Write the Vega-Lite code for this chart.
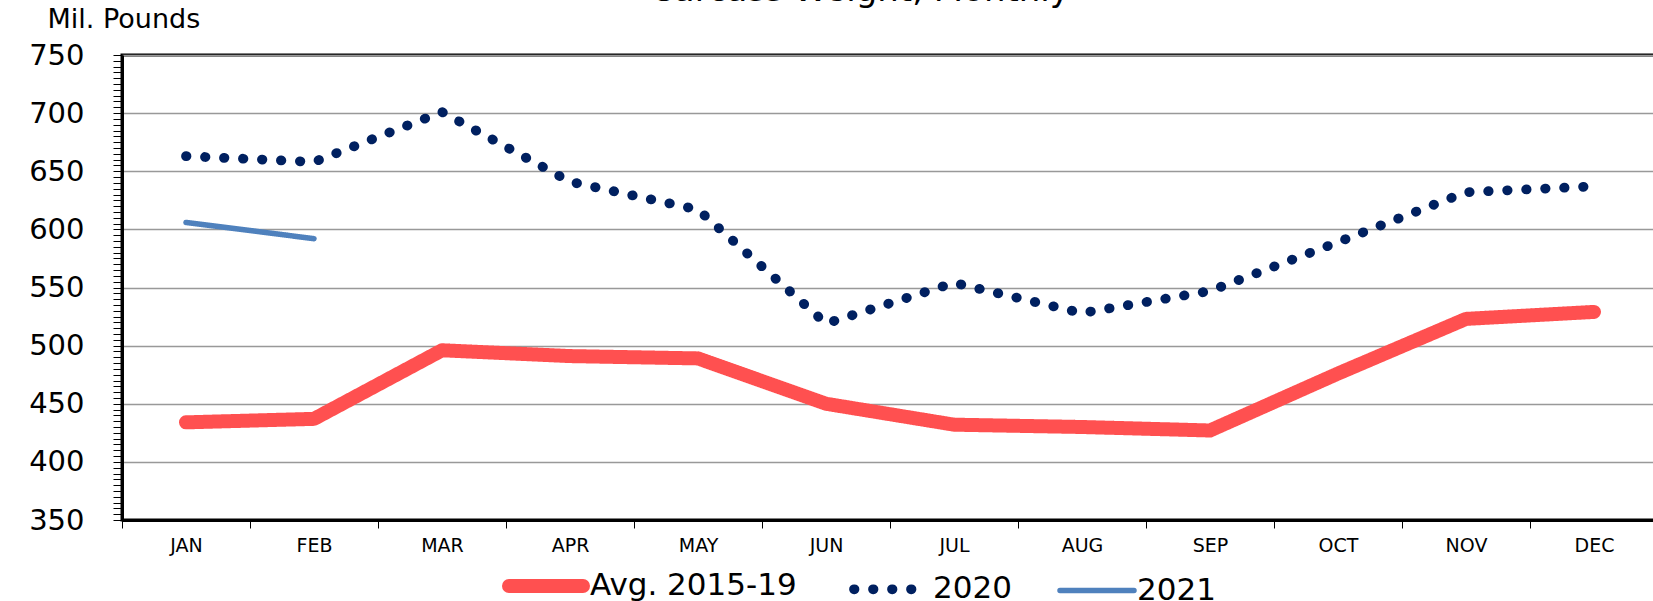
{
  "$schema": "https://vega.github.io/schema/vega-lite/v6.json",
  "autosize": "none",
  "width": 1536,
  "height": 465,
  "padding": {"left": 122, "top": 55, "right": 0, "bottom": 81},
  "background": "white",
  "title": {"text": "Carcass Weight, Monthly", "fontSize": 34, "font": "DejaVu Sans", "fontWeight": "normal", "color": "black", "anchor": "middle", "dx": -30, "dy": 30, "offset": 0, "baseline": "alphabetic"},
  "config": {
    "view": {"stroke": "black", "strokeWidth": 3},
    "font": "DejaVu Sans"
  },
  "data": {"values": [
    {"month": "JAN", "series": "Avg. 2015-19", "value": 434},
    {"month": "FEB", "series": "Avg. 2015-19", "value": 437},
    {"month": "MAR", "series": "Avg. 2015-19", "value": 496},
    {"month": "APR", "series": "Avg. 2015-19", "value": 491},
    {"month": "MAY", "series": "Avg. 2015-19", "value": 489},
    {"month": "JUN", "series": "Avg. 2015-19", "value": 450},
    {"month": "JUL", "series": "Avg. 2015-19", "value": 432},
    {"month": "AUG", "series": "Avg. 2015-19", "value": 430},
    {"month": "SEP", "series": "Avg. 2015-19", "value": 427},
    {"month": "OCT", "series": "Avg. 2015-19", "value": 476},
    {"month": "NOV", "series": "Avg. 2015-19", "value": 523},
    {"month": "DEC", "series": "Avg. 2015-19", "value": 529},
    {"month": "JAN", "series": "2020", "value": 663},
    {"month": "FEB", "series": "2020", "value": 658},
    {"month": "MAR", "series": "2020", "value": 701},
    {"month": "APR", "series": "2020", "value": 641},
    {"month": "MAY", "series": "2020", "value": 617},
    {"month": "JUN", "series": "2020", "value": 519},
    {"month": "JUL", "series": "2020", "value": 554},
    {"month": "AUG", "series": "2020", "value": 528},
    {"month": "SEP", "series": "2020", "value": 547},
    {"month": "OCT", "series": "2020", "value": 589},
    {"month": "NOV", "series": "2020", "value": 632},
    {"month": "DEC", "series": "2020", "value": 637},
    {"month": "JAN", "series": "2021", "value": 606},
    {"month": "FEB", "series": "2021", "value": 592}
  ]},
  "mark": {"type": "line", "strokeCap": "round", "strokeJoin": "round"},
  "encoding": {
    "x": {
      "field": "month", "type": "ordinal", "bandPosition": 0.5,
      "sort": ["JAN","FEB","MAR","APR","MAY","JUN","JUL","AUG","SEP","OCT","NOV","DEC"],
      "scale": {"type": "band", "paddingInner": 0, "paddingOuter": 0},
      "axis": {"title": null, "labelFontSize": 19, "labelColor": "black", "labelAngle": 0, "tickBand": "extent", "tickSize": 8, "tickColor": "black", "domainColor": "black", "domainWidth": 3, "labelPadding": 8, "grid": false}
    },
    "y": {
      "field": "value", "type": "quantitative",
      "scale": {"domain": [350, 750], "nice": false, "zero": false},
      "axis": {
        "tickCount": 80, "labelExpr": "datum.value % 50 === 0 ? datum.label : ''", "labelOverlap": false,
        "labelFontSize": 29, "labelColor": "black", "labelPadding": 29,
        "tickSize": 9, "tickColor": "black", "domainColor": "black", "domainWidth": 3,
        "grid": true, "gridColor": "#999999", "gridWidth": 1.5,
        "gridOpacity": {"condition": {"test": "datum.value % 50 === 0", "value": 1}, "value": 0},
        "title": "Mil. Pounds", "titleAngle": 0, "titleAlign": "left", "titleBaseline": "alphabetic",
        "titleX": -75, "titleY": -28, "titleFontSize": 27, "titleFontWeight": "normal", "titleColor": "black"
      }
    },
    "color": {
      "field": "series", "type": "nominal",
      "scale": {"domain": ["Avg. 2015-19", "2020", "2021"], "range": ["#FF5050", "#002060", "#4F81BD"]},
      "legend": {"title": null, "orient": "none", "legendX": 380, "legendY": 487, "direction": "horizontal", "labelFontSize": 31, "labelColor": "black", "labelLimit": 400, "symbolType": "stroke", "symbolSize": 5476, "labelOffset": 0, "columnPadding": 37,
        "encode": {"symbols": {"update": {"strokeCap": {"value": "round"}}}}}
    },
    "strokeDash": {
      "field": "series", "type": "nominal",
      "scale": {"domain": ["Avg. 2015-19", "2020", "2021"], "range": [[1, 0], [0.5, 18.5], [1, 0]]},
      "legend": {"title": null, "orient": "none", "legendX": 380, "legendY": 487, "direction": "horizontal", "labelFontSize": 31, "labelColor": "black", "labelLimit": 400, "symbolType": "stroke", "symbolSize": 5476, "labelOffset": 0, "columnPadding": 37,
        "encode": {"symbols": {"update": {"strokeCap": {"value": "round"}}}}}
    },
    "strokeWidth": {
      "field": "series", "type": "nominal",
      "scale": {"domain": ["Avg. 2015-19", "2020", "2021"], "range": [14, 5.5, 4.5]},
      "legend": {"title": null, "orient": "none", "legendX": 380, "legendY": 487, "direction": "horizontal", "labelFontSize": 31, "labelColor": "black", "labelLimit": 400, "symbolType": "stroke", "symbolSize": 5476, "labelOffset": 0, "columnPadding": 37,
        "encode": {"symbols": {"update": {"strokeCap": {"value": "round"}}}}}
    }
  }
}
